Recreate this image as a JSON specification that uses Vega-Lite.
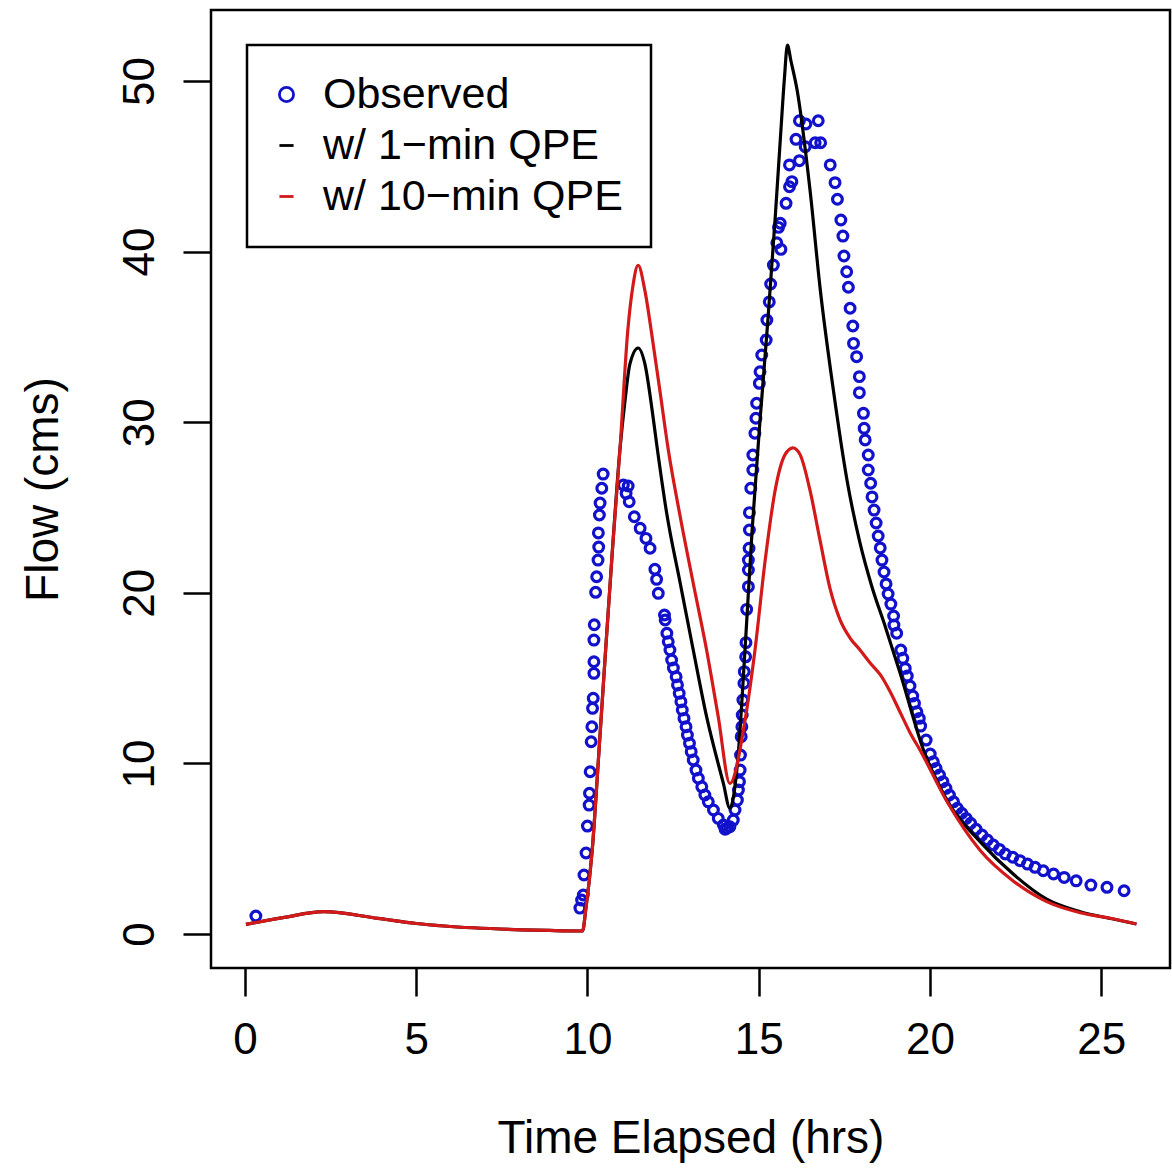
{
  "$schema": "https://vega.github.io/schema/vega-lite/v6.json",
  "width": 959,
  "height": 958,
  "autosize": {"type": "none"},
  "padding": {"left": 211, "top": 10, "right": 2, "bottom": 200},
  "background": "white",
  "datasets": {
    "obs": [
      {"time":0.32,"flow":1.06},
      {"time":9.78,"flow":1.52},{"time":9.83,"flow":1.99},{"time":9.88,"flow":2.29},{"time":9.90,"flow":3.46},{"time":9.96,"flow":4.75},{"time":10.00,"flow":6.33},{"time":10.05,"flow":7.56},{"time":10.06,"flow":8.25},{"time":10.08,"flow":9.51},{"time":10.11,"flow":11.27},{"time":10.13,"flow":12.15},{"time":10.15,"flow":13.23},{"time":10.17,"flow":13.82},{"time":10.19,"flow":15.28},{"time":10.19,"flow":15.96},{"time":10.19,"flow":17.23},{"time":10.20,"flow":18.13},{"time":10.24,"flow":20.03},{"time":10.27,"flow":20.94},{"time":10.31,"flow":21.92},{"time":10.33,"flow":22.68},{"time":10.32,"flow":23.51},{"time":10.35,"flow":24.56},{"time":10.37,"flow":25.26},{"time":10.42,"flow":26.13},{"time":10.46,"flow":26.96},
      {"time":11.05,"flow":26.32},{"time":11.19,"flow":26.26},{"time":11.13,"flow":25.83},{"time":11.22,"flow":25.34},{"time":11.37,"flow":24.46},{"time":11.54,"flow":23.78},{"time":11.71,"flow":23.19},{"time":11.83,"flow":22.61},{"time":11.97,"flow":21.38},{"time":12.02,"flow":20.79},{"time":12.07,"flow":19.97},{"time":12.25,"flow":18.70},{"time":12.27,"flow":18.41},{"time":12.32,"flow":17.63},{"time":12.36,"flow":17.13},{"time":12.41,"flow":16.65},{"time":12.46,"flow":16.06},{"time":12.51,"flow":15.59},{"time":12.59,"flow":15.08},{"time":12.63,"flow":14.60},{"time":12.68,"flow":14.11},{"time":12.73,"flow":13.62},{"time":12.77,"flow":13.13},{"time":12.82,"flow":12.64},{"time":12.88,"flow":12.15},{"time":12.92,"flow":11.66},{"time":12.98,"flow":11.18},{"time":13.03,"flow":10.69},{"time":13.09,"flow":10.20},{"time":13.17,"flow":9.61},{"time":13.24,"flow":9.13},{"time":13.34,"flow":8.63},{"time":13.43,"flow":8.15},{"time":13.53,"flow":7.75},{"time":13.68,"flow":7.27},{"time":13.82,"flow":6.78},{"time":13.97,"flow":6.39},{"time":14.07,"flow":6.20},
      {"time":14.02,"flow":6.14},{"time":14.16,"flow":6.29},{"time":14.26,"flow":6.68},{"time":14.31,"flow":7.27},{"time":14.38,"flow":7.85},{"time":14.41,"flow":8.44},{"time":14.44,"flow":8.93},{"time":14.46,"flow":9.61},{"time":14.47,"flow":10.49},{"time":14.49,"flow":11.57},{"time":14.51,"flow":12.15},{"time":14.52,"flow":12.84},{"time":14.54,"flow":13.72},{"time":14.57,"flow":14.70},{"time":14.58,"flow":15.38},{"time":14.62,"flow":16.25},{"time":14.63,"flow":17.08},{"time":14.65,"flow":19.03},{"time":14.70,"flow":20.36},{"time":14.70,"flow":21.34},{"time":14.70,"flow":21.92},{"time":14.72,"flow":22.61},{"time":14.73,"flow":23.68},{"time":14.73,"flow":24.70},{"time":14.77,"flow":26.13},{"time":14.83,"flow":27.20},{"time":14.83,"flow":28.08},{"time":14.89,"flow":29.35},{"time":14.92,"flow":30.23},{"time":14.94,"flow":31.11},{"time":15.02,"flow":32.28},{"time":15.04,"flow":32.96},{"time":15.09,"flow":33.94},{"time":15.22,"flow":34.82},{"time":15.24,"flow":35.99},{"time":15.31,"flow":37.05},{"time":15.35,"flow":38.10},{"time":15.43,"flow":39.21},{"time":15.53,"flow":40.52},{"time":15.65,"flow":40.13},{"time":15.58,"flow":41.42},{"time":15.63,"flow":41.66},{"time":15.80,"flow":42.83},{"time":15.90,"flow":43.80},{"time":15.97,"flow":44.10},{"time":15.90,"flow":45.08},{"time":16.19,"flow":45.33},{"time":16.09,"flow":46.58},{"time":16.36,"flow":46.15},{"time":16.19,"flow":47.67},{"time":16.38,"flow":47.48},{"time":16.65,"flow":46.38},{"time":16.81,"flow":46.38},{"time":16.74,"flow":47.67},
      {"time":17.09,"flow":45.08},{"time":17.23,"flow":44.04},{"time":17.30,"flow":43.07},{"time":17.40,"flow":41.85},{"time":17.46,"flow":40.91},{"time":17.49,"flow":39.74},{"time":17.57,"flow":38.82},{"time":17.62,"flow":37.91},{"time":17.67,"flow":36.68},{"time":17.75,"flow":35.64},{"time":17.77,"flow":34.62},{"time":17.86,"flow":33.84},{"time":17.94,"flow":32.67},{"time":17.94,"flow":31.73},{"time":18.06,"flow":30.52},{"time":18.08,"flow":29.64},{"time":18.11,"flow":28.96},{"time":18.20,"flow":28.08},{"time":18.20,"flow":27.20},{"time":18.27,"flow":26.42},{"time":18.31,"flow":25.62},{"time":18.37,"flow":24.85},{"time":18.43,"flow":24.09},{"time":18.49,"flow":23.33},{"time":18.55,"flow":22.63},{"time":18.60,"flow":21.92},{"time":18.66,"flow":21.22},{"time":18.72,"flow":20.52},{"time":18.78,"flow":19.93},{"time":18.86,"flow":19.34},{"time":18.94,"flow":18.64},{"time":18.95,"flow":18.11},{"time":19.03,"flow":17.63},{"time":19.15,"flow":16.65},{"time":19.21,"flow":16.16},{"time":19.28,"flow":15.57},{"time":19.34,"flow":15.12},{"time":19.42,"flow":14.54},{"time":19.50,"flow":13.95},{"time":19.55,"flow":13.52},{"time":19.62,"flow":13.03},{"time":19.69,"flow":12.64},{"time":19.73,"flow":12.19},{"time":19.89,"flow":11.37},{"time":20.01,"flow":10.55},{"time":20.10,"flow":10.10},{"time":20.18,"flow":9.71},{"time":20.28,"flow":9.32},{"time":20.38,"flow":8.93},{"time":20.47,"flow":8.54},{"time":20.57,"flow":8.15},{"time":20.69,"flow":7.75},{"time":20.80,"flow":7.37},{"time":20.93,"flow":7.08},{"time":21.06,"flow":6.78},{"time":21.19,"flow":6.49},{"time":21.35,"flow":6.14},{"time":21.52,"flow":5.80},{"time":21.68,"flow":5.51},{"time":21.85,"flow":5.22},{"time":22.03,"flow":4.96},{"time":22.20,"flow":4.69},{"time":22.42,"flow":4.50},{"time":22.63,"flow":4.30},{"time":22.85,"flow":4.10},{"time":23.07,"flow":3.91},{"time":23.31,"flow":3.71},{"time":23.61,"flow":3.52},{"time":23.92,"flow":3.32},{"time":24.27,"flow":3.12},{"time":24.70,"flow":2.87},{"time":25.17,"flow":2.74},{"time":25.67,"flow":2.54}
    ],
    "one": [
      {"time":0.03,"flow":0.57},{"time":1.15,"flow":0.98},{"time":2.3,"flow":1.31},{"time":3.88,"flow":0.92},{"time":5.0,"flow":0.62},{"time":5.82,"flow":0.47},{"time":8.45,"flow":0.23},{"time":9.86,"flow":0.18},{"time":9.95,"flow":1.4},{"time":10.14,"flow":4.9},{"time":10.34,"flow":10.8},{"time":10.53,"flow":16.6},{"time":10.73,"flow":22.5},{"time":10.95,"flow":28.4},{"time":11.10,"flow":31.3},{"time":11.24,"flow":33.4},{"time":11.48,"flow":34.35},{"time":11.68,"flow":33.4},{"time":11.89,"flow":30.7},{"time":12.03,"flow":28.6},{"time":12.32,"flow":24.6},{"time":12.71,"flow":20.56},{"time":13.09,"flow":16.65},{"time":13.48,"flow":12.74},{"time":13.97,"flow":8.83},{"time":14.16,"flow":7.37},{"time":14.39,"flow":10.2},{"time":14.60,"flow":16.6},{"time":14.81,"flow":23.7},{"time":15.04,"flow":30.1},{"time":15.27,"flow":36.0},{"time":15.48,"flow":41.9},{"time":15.63,"flow":46.5},{"time":15.75,"flow":50.1},{"time":15.84,"flow":52.1},{"time":15.94,"flow":51.2},{"time":16.12,"flow":49.5},{"time":16.50,"flow":43.6},{"time":16.80,"flow":37.75},{"time":17.18,"flow":31.9},{"time":17.58,"flow":26.6},{"time":17.95,"flow":23.0},{"time":18.30,"flow":20.4},{"time":18.70,"flow":18.0},{"time":19.13,"flow":15.3},{"time":19.81,"flow":10.8},{"time":20.49,"flow":7.85},{"time":21.47,"flow":5.4},{"time":22.44,"flow":3.5},{"time":23.41,"flow":2.05},{"time":24.39,"flow":1.31},{"time":25.35,"flow":0.88},{"time":26.03,"flow":0.59}
    ],
    "ten": [
      {"time":0.03,"flow":0.57},{"time":1.15,"flow":0.98},{"time":2.3,"flow":1.31},{"time":3.88,"flow":0.92},{"time":5.0,"flow":0.62},{"time":5.82,"flow":0.47},{"time":8.45,"flow":0.23},{"time":9.86,"flow":0.18},{"time":9.95,"flow":1.4},{"time":10.14,"flow":4.9},{"time":10.34,"flow":10.8},{"time":10.53,"flow":16.6},{"time":10.73,"flow":22.5},{"time":10.95,"flow":28.4},{"time":11.18,"flow":35.4},{"time":11.33,"flow":38.0},{"time":11.48,"flow":39.2},{"time":11.68,"flow":37.7},{"time":11.89,"flow":35.0},{"time":12.12,"flow":31.8},{"time":12.36,"flow":28.4},{"time":12.71,"flow":24.46},{"time":13.09,"flow":20.56},{"time":13.48,"flow":16.65},{"time":13.82,"flow":12.74},{"time":14.16,"flow":8.83},{"time":14.60,"flow":12.5},{"time":14.89,"flow":16.6},{"time":15.19,"flow":21.9},{"time":15.48,"flow":26.0},{"time":15.77,"flow":28.1},{"time":16.0,"flow":28.5},{"time":16.21,"flow":28.1},{"time":16.50,"flow":26.0},{"time":16.79,"flow":23.1},{"time":17.09,"flow":20.2},{"time":17.38,"flow":18.4},{"time":17.67,"flow":17.35},{"time":17.96,"flow":16.65},{"time":18.25,"flow":15.9},{"time":18.55,"flow":15.2},{"time":18.84,"flow":14.2},{"time":19.13,"flow":13.0},{"time":19.42,"flow":11.8},{"time":19.71,"flow":10.79},{"time":20.49,"flow":7.8},{"time":21.47,"flow":4.9},{"time":22.44,"flow":3.1},{"time":23.41,"flow":1.9},{"time":24.39,"flow":1.25},{"time":25.35,"flow":0.9},{"time":26.03,"flow":0.59}
    ]
  },
  "encoding": {
    "x": {"field": "time", "type": "quantitative",
      "scale": {"domain": [-0.99, 27.01], "nice": false, "zero": false},
      "axis": {"values": [0,5,10,15,20,25], "title": "Time Elapsed (hrs)", "labelPadding": 22, "titlePadding": 54, "labelFlush": false}},
    "y": {"field": "flow", "type": "quantitative",
      "scale": {"domain": [-1.99, 54.16], "nice": false, "zero": false},
      "axis": {"values": [0,10,20,30,40,50], "title": "Flow (cms)", "labelAngle": -90, "labelAlign": "center", "labelBaseline": "alphabetic", "labelPadding": 30, "titlePadding": 51, "labelFlush": false}},
    "color": {"field": "series", "type": "nominal",
      "scale": {"domain": ["Observed", "w/ 1\u2212min QPE", "w/ 10\u2212min QPE"], "range": ["#1212CC", "#000000", "#D31919"]},
      "legend": {"title": null, "orient": "none", "legendX": 36, "legendY": 35}}
  },
  "layer": [
    {
      "data": {"name": "obs"},
      "transform": [{"calculate": "'Observed'", "as": "series"}],
      "mark": {"type": "point", "filled": false, "size": 95, "strokeWidth": 3.2, "opacity": 1},
      "encoding": {
        "shape": {"field": "series", "type": "nominal",
          "scale": {"domain": ["Observed", "w/ 1\u2212min QPE", "w/ 10\u2212min QPE"], "range": ["circle", "stroke", "stroke"]},
          "legend": {"title": null, "orient": "none", "legendX": 36, "legendY": 35}}
      }
    },
    {
      "data": {"name": "one"},
      "transform": [{"calculate": "'w/ 1\u2212min QPE'", "as": "series"}],
      "mark": {"type": "line", "strokeWidth": 3.2, "interpolate": "monotone"},
      "encoding": {}
    },
    {
      "data": {"name": "ten"},
      "transform": [{"calculate": "'w/ 10\u2212min QPE'", "as": "series"}],
      "mark": {"type": "line", "strokeWidth": 3.2, "interpolate": "monotone"},
      "encoding": {}
    }
  ],
  "config": {
    "font": "Liberation Sans",
    "view": {"stroke": "black", "strokeWidth": 2.5},
    "axis": {"domain": false, "grid": false, "tickColor": "black", "tickWidth": 2.5, "tickSize": 28,
      "labelColor": "black", "titleColor": "black", "labelFontSize": 44, "titleFontSize": 46,
      "titleFontWeight": "normal", "labelFont": "Liberation Sans", "titleFont": "Liberation Sans"},
    "legend": {"strokeColor": "black", "strokeWidth": 2.5, "fillColor": "white", "padding": 28,
      "labelFontSize": 43, "labelColor": "black", "labelFont": "Liberation Sans", "symbolSize": 200,
      "symbolStrokeWidth": 2.8, "labelOffset": 15, "symbolOffset": -10, "rowPadding": 7, "labelLimit": 0}
  }
}
